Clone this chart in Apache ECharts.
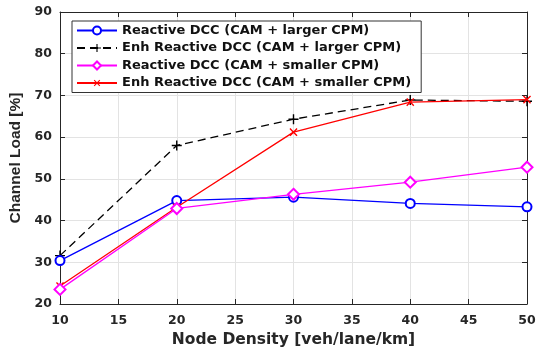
<!DOCTYPE html>
<html>
<head>
<meta charset="utf-8">
<script src="https://cdn.jsdelivr.net/npm/echarts@6/dist/echarts.min.js"></script>
<style>
  html, body { margin: 0; padding: 0; background: #fff; }
  #chart { width: 537px; height: 354px; }
</style>
</head>
<body>
<div id="chart"></div>
<script>
// node density [veh/lane/km]
const density = [10, 20, 30, 40, 50]

// channel load [%]
const reactiveLarger = [30.4, 44.8, 45.6, 44.1, 43.3]
const enhLarger = [31.6, 58.0, 64.3, 68.9, 68.6]
const reactiveSmaller = [23.5, 42.9, 46.3, 49.2, 52.8]
const enhSmaller = [24.3, 43.2, 61.2, 68.4, 69.0]

const seriesNames = [
  'Reactive DCC (CAM + larger CPM)',
  'Enh Reactive DCC (CAM + larger CPM)',
  'Reactive DCC (CAM + smaller CPM)',
  'Enh Reactive DCC (CAM + smaller CPM)',
]

const font = 'DejaVu Sans, sans-serif'
const yTitleFont = 'Liberation Sans, Arial, sans-serif'
const axisColor = '#262626'
const plusPath = 'path://M4.3,0H5.7V4.3H10V5.7H5.7V10H4.3V5.7H0V4.3H4.3Z'

const pairs = (ys) => density.map((x, i) => [x, ys[i]])

const chart = echarts.init(document.getElementById('chart'))

const baseX = {
  type: 'value',
  min: 10,
  max: 50,
  interval: 5,
  axisLine: { show: true, onZero: false, lineStyle: { color: axisColor, width: 1 } },
  axisTick: { show: true, inside: true, length: 5, lineStyle: { color: axisColor } },
}
const baseY = {
  type: 'value',
  min: 20,
  max: 90,
  interval: 10,
  axisLine: { show: true, onZero: false, lineStyle: { color: axisColor, width: 1 } },
  axisTick: { show: true, inside: true, length: 5, lineStyle: { color: axisColor } },
}

chart.setOption({
  animation: false,
  backgroundColor: '#fff',
  grid: { left: 60, right: 10, top: 12, bottom: 50, outerBoundsMode: 'none' },
  xAxis: [
    {
      ...baseX,
      position: 'bottom',
      name: 'Node Density [veh/lane/km]',
      nameLocation: 'middle',
      nameGap: 27,
      nameTextStyle: { color: axisColor, fontFamily: font, fontWeight: 'bold', fontSize: 15.5 },
      axisLabel: { color: axisColor, fontFamily: font, fontWeight: 'bold', fontSize: 12.5, margin: 10 },
      splitLine: { show: true, lineStyle: { color: '#e3e3e3', width: 1 } },
    },
    {
      ...baseX,
      position: 'top',
      axisLabel: { show: false },
      splitLine: { show: false },
    },
  ],
  yAxis: [
    {
      ...baseY,
      position: 'left',
      name: 'Channel Load [%]',
      nameLocation: 'middle',
      nameGap: 33,
      nameTextStyle: { color: axisColor, fontFamily: yTitleFont, fontWeight: 'bold', fontSize: 15.5 },
      axisLabel: { color: axisColor, fontFamily: font, fontWeight: 'bold', fontSize: 12.5, margin: 8 },
      splitLine: { show: true, lineStyle: { color: '#e3e3e3', width: 1 } },
    },
    {
      ...baseY,
      position: 'right',
      axisLabel: { show: false },
      splitLine: { show: false },
    },
  ],
  legend: {
    orient: 'vertical',
    left: 72,
    top: 21,
    width: 352,
    itemWidth: 40,
    itemHeight: 10,
    itemGap: 4.5,
    padding: [3, 10, 3, 4],
    borderColor: '#333',
    borderWidth: 1,
    backgroundColor: '#fff',
    textStyle: { color: '#111', fontFamily: font, fontWeight: 'bold', fontSize: 13 },
    data: seriesNames,
  },
  series: [
    {
      name: seriesNames[0],
      type: 'line',
      data: pairs(reactiveLarger),
      symbol: 'emptyCircle',
      symbolSize: 9,
      lineStyle: { color: '#0000ff', width: 1.3 },
      itemStyle: { color: '#0000ff', borderWidth: 1.5 },
      z: 3,
    },
    {
      name: seriesNames[1],
      type: 'line',
      data: pairs(enhLarger),
      symbol: plusPath,
      symbolSize: 10,
      lineStyle: { color: '#000', width: 1.3, type: [8, 5] },
      itemStyle: { color: '#000' },
      z: 2,
    },
    {
      name: seriesNames[2],
      type: 'line',
      data: pairs(reactiveSmaller),
      symbol: 'emptyDiamond',
      symbolSize: 11,
      lineStyle: { color: '#ff00ff', width: 1.3 },
      itemStyle: { color: '#ff00ff', borderWidth: 1.5 },
      z: 5,
    },
    {
      name: seriesNames[3],
      type: 'line',
      data: pairs(enhSmaller),
      symbol: plusPath,
      symbolRotate: 45,
      symbolSize: 10,
      lineStyle: { color: '#ff0000', width: 1.3 },
      itemStyle: { color: '#ff0000' },
      z: 4,
    },
  ],
})
</script>
</body>
</html>
